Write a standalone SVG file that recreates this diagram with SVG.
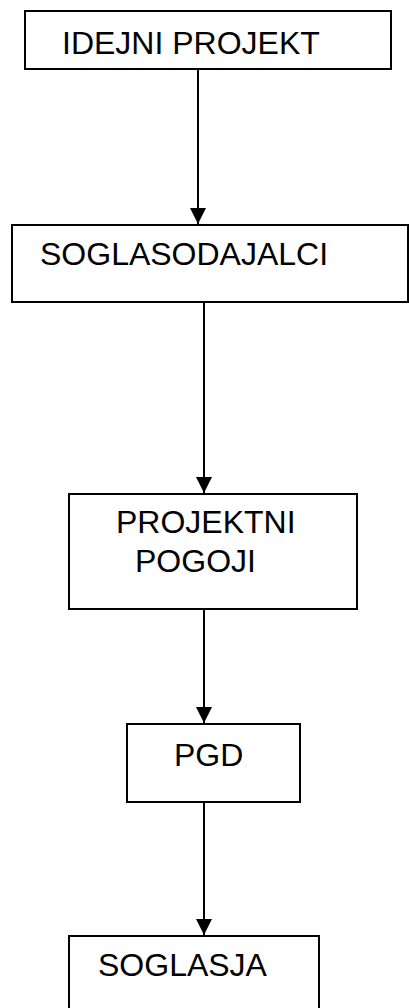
<svg xmlns="http://www.w3.org/2000/svg" width="409" height="1008" viewBox="0 0 409 1008">
  <style>
    .box { fill: #ffffff; stroke: #000000; stroke-width: 2; }
    .label { font-family: "Liberation Sans", Arial, sans-serif; font-size: 32px; fill: #000000; }
    .edge { stroke: #000000; stroke-width: 2; fill: none; marker-end: url(#arrow); }
  </style>
  <defs>
    <!-- filled triangular arrowhead, tip at the end of the line -->
    <marker id="arrow" markerUnits="userSpaceOnUse" markerWidth="16" markerHeight="16" viewBox="0 0 16 16" refX="16" refY="8" orient="auto">
      <path d="M0,0 L16,8 L0,16 Z" fill="#000000"/>
    </marker>
  </defs>
  <rect width="409" height="1008" fill="#ffffff"/>

  <g id="connectors">
    <line class="edge" x1="198" y1="69" x2="198" y2="224"/>
    <line class="edge" x1="204" y1="302" x2="204" y2="493"/>
    <line class="edge" x1="204" y1="609" x2="204" y2="723"/>
    <line class="edge" x1="204" y1="802" x2="204" y2="935"/>
  </g>

  <g id="idejni-projekt">
    <rect class="box" x="25" y="11" width="366" height="58"/>
    <text class="label" x="62" y="54">IDEJNI PROJEKT</text>
  </g>

  <g id="soglasodajalci">
    <rect class="box" x="12" y="225" width="396" height="77"/>
    <text class="label" x="40" y="265">SOGLASODAJALCI</text>
  </g>

  <g id="projektni-pogoji">
    <rect class="box" x="69" y="494" width="288" height="115"/>
    <text class="label" x="116" y="533">PROJEKTNI</text>
    <text class="label" x="135" y="572">POGOJI</text>
  </g>

  <g id="pgd">
    <rect class="box" x="127" y="724" width="173" height="78"/>
    <text class="label" x="174" y="766">PGD</text>
  </g>

  <g id="soglasja">
    <rect class="box" x="69" y="936" width="250" height="80"/>
    <text class="label" x="98" y="976">SOGLASJA</text>
  </g>
</svg>
